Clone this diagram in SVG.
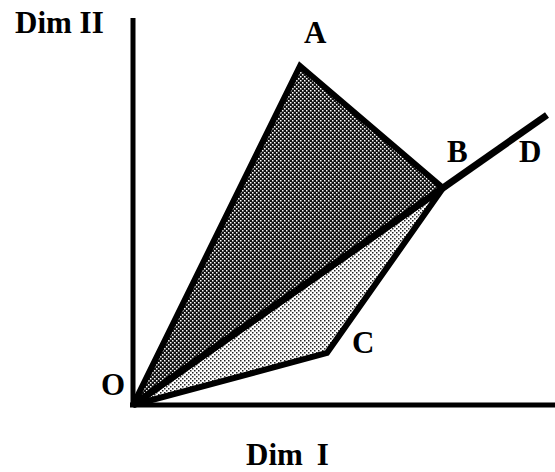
<svg xmlns="http://www.w3.org/2000/svg" width="555" height="472" viewBox="0 0 555 472">
<defs>
<pattern id="dark" width="4" height="4" patternUnits="userSpaceOnUse">
<rect width="4" height="4" fill="#111"/>
<rect x="0" y="0" width="1.5" height="1.5" fill="#fff"/>
<rect x="2" y="2" width="1.5" height="1.5" fill="#fff"/>
</pattern>
<pattern id="light" width="4" height="4" patternUnits="userSpaceOnUse">
<rect width="4" height="4" fill="#fff"/>
<rect x="0" y="0" width="1.5" height="1.5" fill="#222"/>
<rect x="2" y="2" width="1.5" height="1.5" fill="#222"/>
</pattern>
<style>
text{font-family:"Liberation Serif","Times New Roman",serif;font-weight:bold;fill:#000;font-size:31px}
.shape{stroke:#000;stroke-width:6;stroke-linejoin:miter}
</style>
</defs>
<g id="axes">
<line x1="133" y1="18" x2="133" y2="407" stroke="#000" stroke-width="5"/>
<line x1="130" y1="405" x2="555" y2="405" stroke="#000" stroke-width="5"/>
</g>
<g id="regionOBC">
<polygon class="shape" points="133,405 443,188 327,353" fill="url(#light)"/>
</g>
<g id="regionOAB">
<polygon class="shape" points="133,405 300,66 443,188" fill="url(#dark)"/>
</g>
<g id="connectors">
<line x1="133" y1="405" x2="547" y2="115" stroke="#000" stroke-width="7"/>
</g>
<g id="labels">
<text x="15" y="33">Dim II</text>
<text x="304" y="43">A</text>
<text x="447" y="162">B</text>
<text x="519" y="162">D</text>
<text x="352" y="353">C</text>
<text x="101" y="395">O</text>
<text x="246" y="465">Dim<tspan dx="14">I</tspan></text>
</g>
</svg>
